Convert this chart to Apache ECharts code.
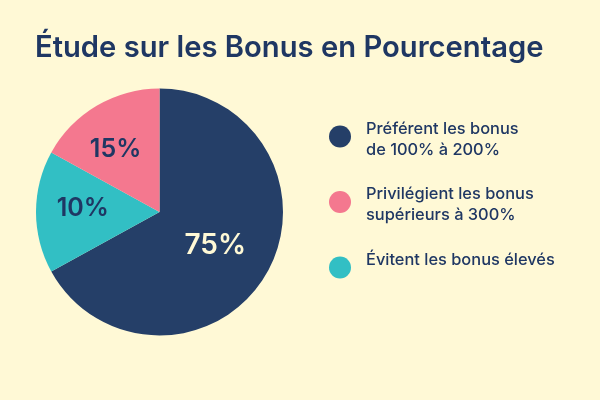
<!DOCTYPE html>
<html><head><meta charset="utf-8">
<style>html,body{margin:0;padding:0;background:#fff9d6}#c{width:600px;height:400px}</style>
<script src="https://cdn.jsdelivr.net/npm/echarts@6/dist/echarts.min.js"></script>
</head><body><div id="c"></div>
<script>
const titleText = "Étude sur les Bonus en Pourcentage";
const categories = ["Préférent les bonus\nde 100% à 200%", "Évitent les bonus élevés", "Privilégient les bonus\nsupérieurs à 300%"];
const legendOrder = [categories[0], categories[2], categories[1]];
const drawnShares = [67, 16, 17];
const printedLabels = ["75%", "10%", "15%"];
const colors = ["#253f68", "#32bfc4", "#f4788f"];
const labelColors = ["#fff9d6", "#1f3763", "#1f3763"];
const labelSizes = [28, 25, 25];
const labelOffsets = [[0, 1], [-12, -4], [-11, -7]];
const font = "Inter";
const legendLine = {fontFamily:font,fontSize:16.4,fontWeight:500,color:"#1f3763",lineHeight:21,padding:[0,0,0,10]};
const chart = echarts.init(document.getElementById('c'), null, {renderer:'canvas'});
chart.setOption({
  backgroundColor:"#fff9d6",
  animation:false,
  title:{text:titleText,left:35,top:34,padding:0,textStyle:{fontFamily:font,fontSize:29.2,fontWeight:600,color:"#1f3763"}},
  legend:{orient:'vertical',left:329,top:113.5,padding:0,itemWidth:22,itemHeight:22,itemGap:21,icon:'circle',
    formatter:n=>{
      const lines=n.split("\n");
      if(lines.length<2) lines.push(" ");
      return "{gap| }\n"+lines.map(l=>"{t|"+l+"}").join("\n");
    },
    textStyle:{fontFamily:font,fontSize:16.4,color:"#1f3763",rich:{gap:{fontSize:4,lineHeight:6},t:legendLine}},
    data:legendOrder},
  series:[{type:'pie',center:[159.5,212],radius:[0,123.5],startAngle:90,clockwise:true,
    data:categories.map((n,i)=>({name:n,value:drawnShares[i],itemStyle:{color:colors[i]},
      label:{color:labelColors[i],formatter:printedLabels[i],fontSize:labelSizes[i],offset:labelOffsets[i]}})),
    label:{show:true,position:'inside',fontFamily:font,fontWeight:600},
    labelLine:{show:false},emphasis:{disabled:true}}]
});
</script></body></html>
